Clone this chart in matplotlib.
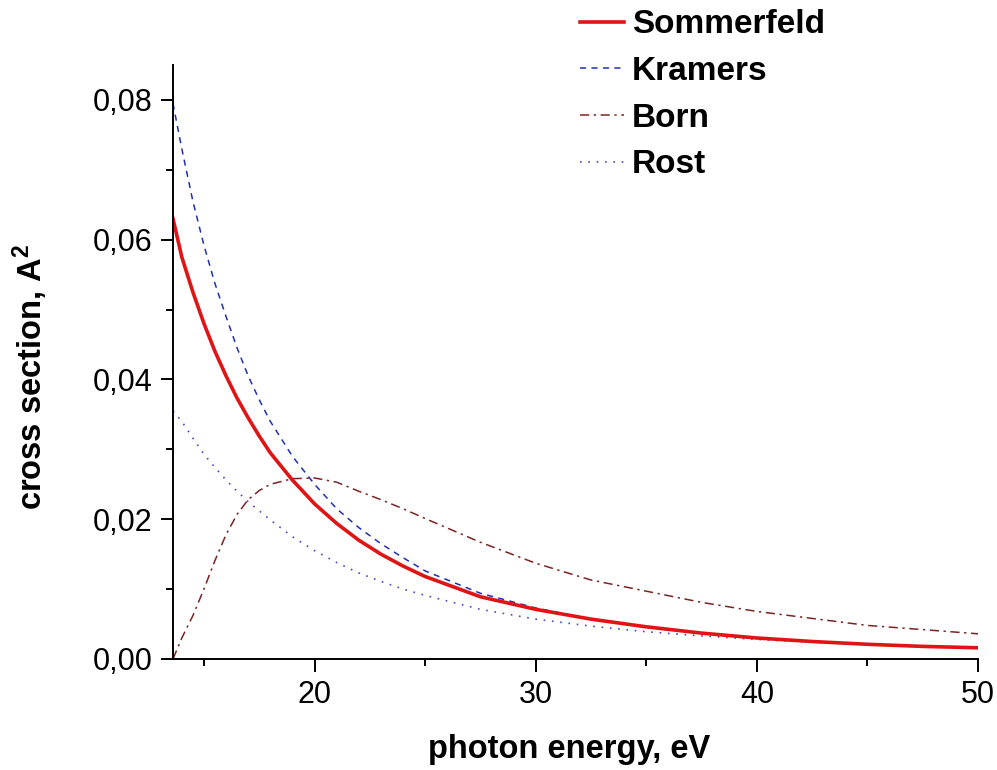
import matplotlib
matplotlib.use("Agg")
import matplotlib.pyplot as plt
from matplotlib.ticker import MultipleLocator, FuncFormatter

plt.rcParams['font.family'] = ['Liberation Sans', 'DejaVu Sans']
plt.rcParams['mathtext.default'] = 'regular'

# photon energy grid, eV
energy = [13.6, 14, 14.5, 15, 15.5, 16, 16.5, 17, 17.5, 18, 19, 20, 21, 22, 23, 24, 25,
          27.5, 30, 32.5, 35, 37.5, 40, 42.5, 45, 47.5, 50]

# cross sections, A^2
sommerfeld = [0.0630, 0.0575, 0.0525, 0.0480, 0.0440, 0.0405, 0.0373, 0.0345, 0.0319, 0.0295,
              0.0256, 0.0222, 0.0194, 0.0170, 0.0150, 0.0133, 0.0118,
              0.0089, 0.0071, 0.0057, 0.0046, 0.0037, 0.0030, 0.0025, 0.0021, 0.0018, 0.0016]
kramers = [0.0795, 0.0730, 0.0655, 0.0592, 0.0537, 0.0490, 0.0445, 0.0405, 0.0371, 0.0340,
           0.0290, 0.0250, 0.0215, 0.0188, 0.0165, 0.0145, 0.0126,
           0.0094, 0.0073, 0.0057, 0.0046, 0.0037, 0.0030, 0.0025, 0.0021, 0.0018, 0.0016]
born = [0.0000, 0.0030, 0.0062, 0.0100, 0.0141, 0.0178, 0.0207, 0.0228, 0.0241, 0.0250,
        0.0258, 0.0259, 0.0253, 0.0240, 0.0228, 0.0215, 0.0201,
        0.0167, 0.0137, 0.0113, 0.0097, 0.0081, 0.0068, 0.0058, 0.0048, 0.0042, 0.0036]
rost = [0.0355, 0.0340, 0.0316, 0.0293, 0.0274, 0.0256, 0.0240, 0.0225, 0.0212, 0.0199,
        0.0175, 0.0155, 0.0138, 0.0123, 0.0111, 0.0100, 0.0091,
        0.0071, 0.0057, 0.0047, 0.0039, 0.0033, 0.0028, 0.0024, 0.0021, 0.0018, 0.0016]

fig = plt.figure(figsize=(9.97, 7.70), dpi=100)
ax = fig.add_axes([0.1735, 0.1442, 0.8075, 0.7714])

ax.plot(energy, born, color='#7a2424', lw=1.1, ls=(0, (6, 3, 1.5, 3)), label='Born')
ax.plot(energy, rost, color='#6040c0', lw=1.2, ls=(0, (1, 4)), label='Rost')
ax.plot(energy, kramers, color='#2030b0', lw=1.1, ls=(0, (4, 3.5)), label='Kramers')
ax.plot(energy, sommerfeld, color='#e01414', lw=2.6, label='Sommerfeld')

ax.set_xlim(13.6, 50)
ax.set_ylim(0, 0.085)

for s in ['top', 'right']:
    ax.spines[s].set_visible(False)
for s in ['left', 'bottom']:
    ax.spines[s].set_linewidth(1.4)

ax.xaxis.set_major_locator(MultipleLocator(10))
ax.xaxis.set_minor_locator(MultipleLocator(5))
ax.yaxis.set_major_locator(MultipleLocator(0.02))
ax.yaxis.set_minor_locator(MultipleLocator(0.01))
ax.yaxis.set_major_formatter(FuncFormatter(lambda v, p: ('%.2f' % v).replace('.', ',')))
ax.tick_params(which='major', direction='out', length=9, width=1.4, labelsize=22, pad=6)
ax.tick_params(which='minor', direction='out', length=5, width=1.4)

ax.set_xlabel('photon energy, eV', fontsize=23.5, fontweight='bold')
ax.set_ylabel('cross section, A$^2$', fontsize=23.5, fontweight='bold')
ax.xaxis.set_label_coords(0.492, -0.127)
ax.yaxis.set_label_coords(-0.153, 0.475)

h, l = ax.get_legend_handles_labels()
order = [3, 2, 0, 1]
fig.legend([h[i] for i in order], [l[i] for i in order], loc='upper left',
           bbox_to_anchor=(0.582, 0.988), frameon=False, borderpad=0, borderaxespad=0,
           handlelength=1.3, handletextpad=0.25, labelspacing=0.47,
           prop={'size': 24, 'weight': 'bold'})

fig.savefig('out.png', dpi=100)
